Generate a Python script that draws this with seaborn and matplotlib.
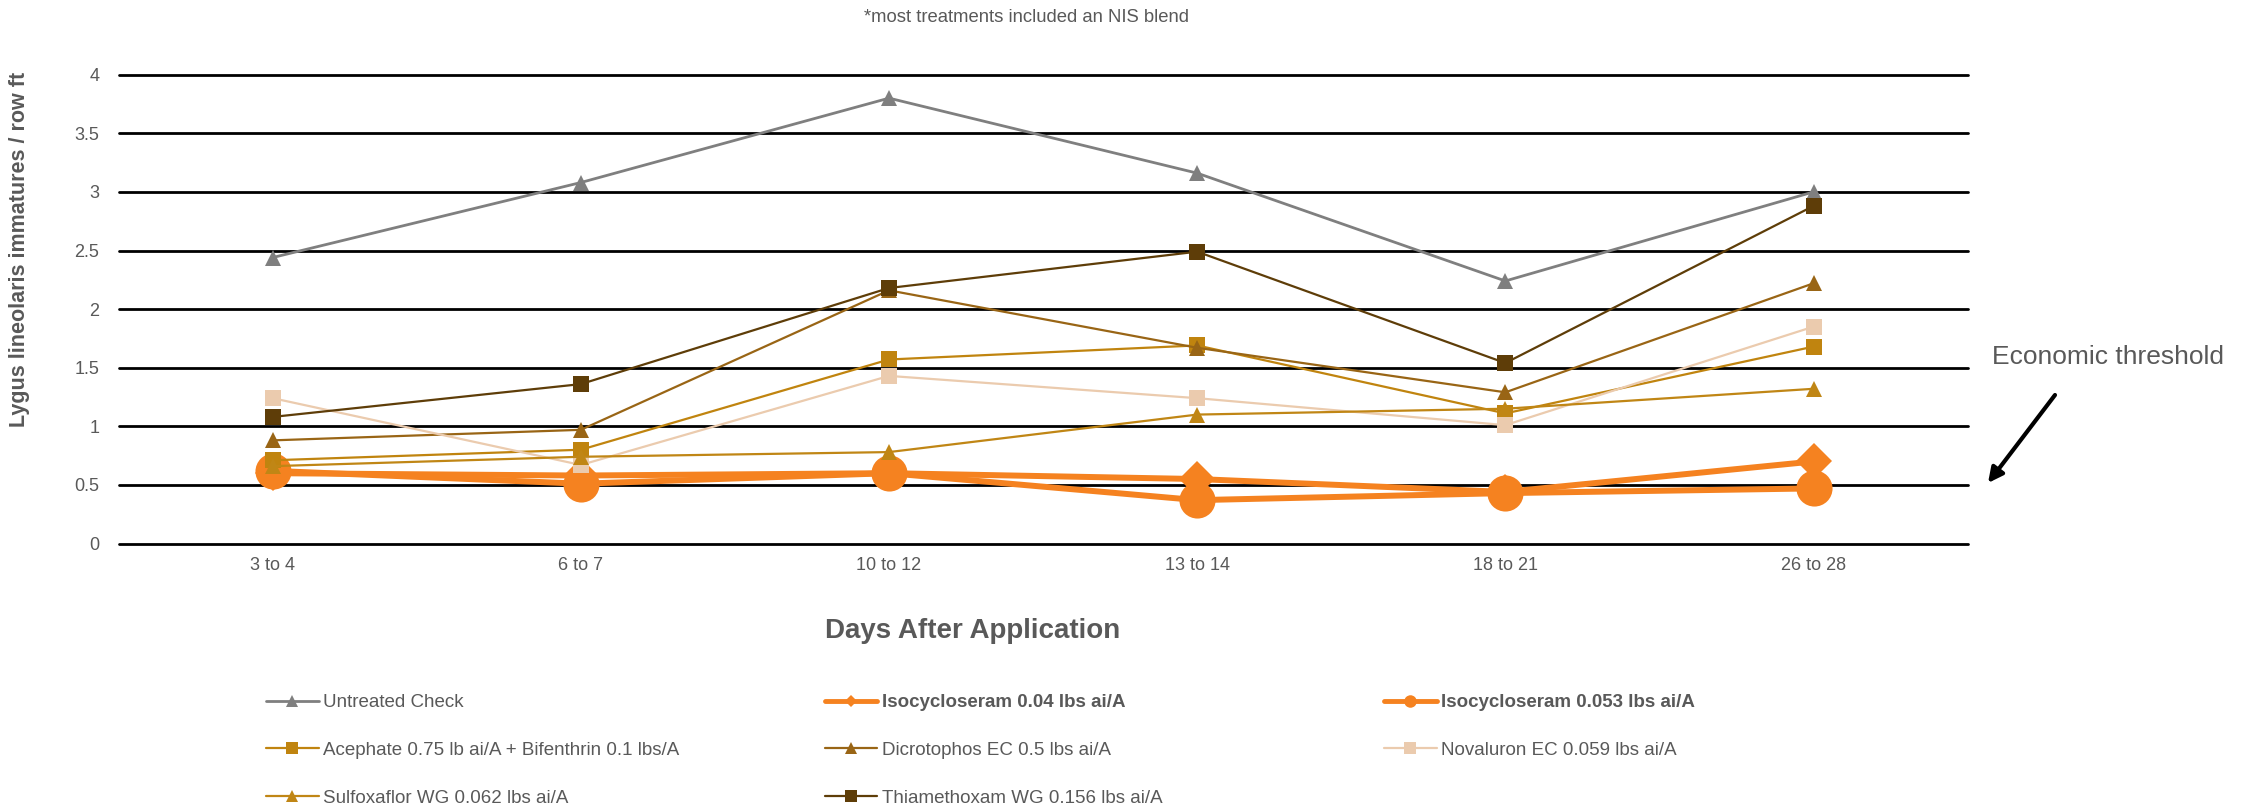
import matplotlib
matplotlib.use("Agg")
import matplotlib.pyplot as plt
from matplotlib.lines import Line2D
import seaborn as sns
import pandas as pd

sns.set_theme(style="white")
plt.rcParams["font.family"] = ["Liberation Sans", "DejaVu Sans"]

# Sampling intervals (days after application)
days = ["3 to 4", "6 to 7", "10 to 12", "13 to 14", "18 to 21", "26 to 28"]

# Lygus lineolaris immatures per row ft, one list per treatment
untreated = [2.44, 3.08, 3.80, 3.16, 2.24, 3.00]
iso_004 = [0.60, 0.58, 0.60, 0.55, 0.44, 0.70]
iso_0053 = [0.62, 0.51, 0.60, 0.37, 0.43, 0.47]
acephate_bif = [0.71, 0.80, 1.57, 1.69, 1.11, 1.68]
dicrotophos = [0.88, 0.97, 2.16, 1.67, 1.29, 2.22]
novaluron = [1.24, 0.67, 1.43, 1.24, 1.01, 1.85]
sulfoxaflor = [0.66, 0.74, 0.78, 1.10, 1.15, 1.32]
thiamethoxam = [1.08, 1.36, 2.18, 2.49, 1.54, 2.88]

names = [
    "Untreated Check",
    "Isocycloseram 0.04 lbs ai/A",
    "Isocycloseram 0.053 lbs ai/A",
    "Acephate 0.75 lb ai/A + Bifenthrin 0.1 lbs/A",
    "Dicrotophos EC 0.5 lbs ai/A",
    "Novaluron EC 0.059 lbs ai/A",
    "Sulfoxaflor WG 0.062 lbs ai/A",
    "Thiamethoxam WG 0.156 lbs ai/A",
]
values = [untreated, iso_004, iso_0053, acephate_bif, dicrotophos,
          novaluron, sulfoxaflor, thiamethoxam]

# colour, marker, line width, marker size (chart), marker size (legend)
styles = {
    names[0]: ("#7F7F7F", "^", 2.0, 11, 8),
    names[1]: ("#F58220", "D", 4.3, 18, 6),
    names[2]: ("#F58220", "o", 4.3, 26, 9),
    names[3]: ("#C0840F", "s", 1.6, 11, 9),
    names[4]: ("#996515", "^", 1.6, 11, 8),
    names[5]: ("#EBCBAE", "s", 1.6, 11, 9),
    names[6]: ("#C08615", "^", 1.6, 11, 8),
    names[7]: ("#5E3D08", "s", 1.6, 11, 9),
}

df = pd.DataFrame(
    [(n, d, v) for n, vals in zip(names, values) for d, v in zip(days, vals)],
    columns=["treatment", "days", "count"],
)

W, H = 2250, 808
fig = plt.figure(figsize=(W / 100, H / 100), dpi=100)
ax = fig.add_axes([118.6 / W, 1 - 543.5 / H, 1849 / W, 468.8 / H])

for n in names:
    c, m, lw, ms, _ = styles[n]
    sns.lineplot(data=df[df["treatment"] == n], x="days", y="count",
                 color=c, marker=m, markersize=ms, markeredgewidth=0,
                 linewidth=lw, ax=ax, legend=False, sort=False, zorder=3)

txt = "#595959"
ax.set_xlim(-0.5, 5.5)
ax.set_ylim(0, 4)
ax.set_yticks([0, 0.5, 1, 1.5, 2, 2.5, 3, 3.5, 4])
ax.set_yticklabels(["0", "0.5", "1", "1.5", "2", "2.5", "3", "3.5", "4"])
ax.tick_params(axis="both", length=0, labelsize=13, labelcolor=txt)
ax.tick_params(axis="y", pad=14)
ax.tick_params(axis="x", pad=10)
ax.yaxis.grid(True, color="black", linewidth=2.0, zorder=1)
ax.xaxis.grid(False)
ax.set_axisbelow(True)
for s in ax.spines.values():
    s.set_visible(False)
ax.set_xlabel("")
ax.set_ylabel("")
fig.canvas.draw()
for gl in ax.get_ygridlines():
    gl.set_clip_on(False)

fig.text(20 / W, 1 - 249 / H, "Lygus lineolaris immatures / row ft",
         rotation=90, ha="center", va="center", fontsize=15.5,
         fontweight="bold", color=txt)
fig.text(973 / W, 1 - 631 / H, "Days After Application", ha="center",
         va="center", fontsize=20, fontweight="bold", color=txt)
fig.text(1026 / W, 1 - 17 / H, "*most treatments included an NIS blend",
         ha="center", va="center", fontsize=13.3, color=txt)

fig.text(1992 / W, 1 - 357 / H, "Economic threshold", ha="left",
         va="center", fontsize=19, color=txt)
ax.annotate("", xy=(1988, H - 483), xytext=(2055, H - 395),
            xycoords="figure pixels", textcoords="figure pixels",
            arrowprops=dict(arrowstyle="-|>", color="black", lw=3,
                            mutation_scale=22, shrinkA=0, shrinkB=0),
            annotation_clip=False)

# Legend laid out as three equal-width columns
columns = [[0, 3, 6], [1, 4, 7], [2, 5]]
col_x = [266, 825, 1384]
for cx, idxs in zip(col_x, columns):
    handles = []
    labels = []
    for i in idxs:
        c, m, lw, ms, lms = styles[names[i]]
        handles.append(Line2D([], [], color=c, marker=m, markersize=lms,
                              markeredgewidth=0,
                              linewidth=3.5 if lw > 3 else lw))
        labels.append(names[i])
    leg = fig.legend(handles, labels, loc="upper left",
                     bbox_to_anchor=(cx / W, 1 - 694 / H),
                     frameon=False, fontsize=13.5, labelcolor=txt,
                     handlelength=2.8, handletextpad=0.25,
                     labelspacing=1.64, borderpad=0, borderaxespad=0)
    for t in leg.get_texts():
        if t.get_text().startswith("Isocycloseram"):
            t.set_fontweight("bold")

fig.savefig("out.png", dpi=100, facecolor="white")
